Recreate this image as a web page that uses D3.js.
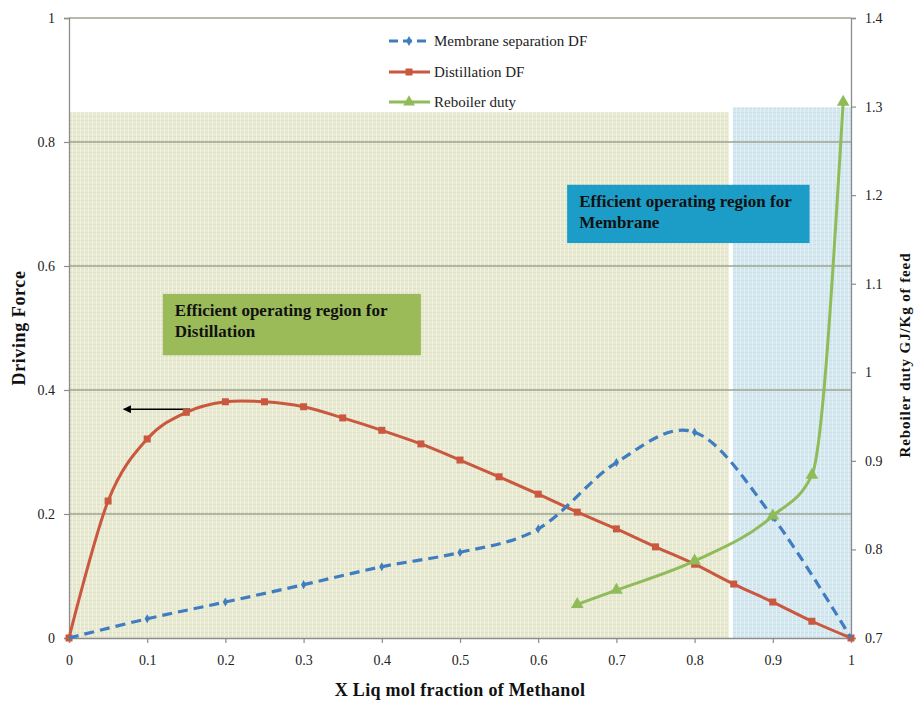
<!DOCTYPE html>
<html>
<head>
<meta charset="utf-8">
<script src="https://cdn.jsdelivr.net/npm/d3@7"></script>
<style>
  html, body { margin: 0; padding: 0; background: #fff; }
  svg { display: block; }
  text { font-family: "Liberation Serif", "Times New Roman", serif; }
</style>
</head>
<body>
<svg id="chart" width="914" height="701"></svg>
<script>
// ---------------- DATA ----------------
const distX = [0, 0.05, 0.1, 0.15, 0.2, 0.25, 0.3, 0.35, 0.4, 0.45, 0.5, 0.55, 0.6, 0.65, 0.7, 0.75, 0.8, 0.85, 0.9, 0.95, 1];
const distDF = [0, 0.221, 0.321, 0.364, 0.381, 0.381, 0.373, 0.355, 0.335, 0.313, 0.287, 0.260, 0.232, 0.203, 0.176, 0.147, 0.119, 0.087, 0.058, 0.027, 0];

const memX = [0, 0.1, 0.2, 0.3, 0.4, 0.5, 0.6, 0.7, 0.8, 0.9, 1];
const memDF = [0, 0.031, 0.058, 0.086, 0.115, 0.138, 0.176, 0.283, 0.332, 0.195, 0];

const rebX = [0.65, 0.7, 0.8, 0.9, 0.95, 0.99];
const rebDuty = [0.738, 0.754, 0.787, 0.838, 0.884, 1.305];

const xTicks = [0, 0.1, 0.2, 0.3, 0.4, 0.5, 0.6, 0.7, 0.8, 0.9, 1];
const yTicks = [0, 0.2, 0.4, 0.6, 0.8, 1];
const y2Ticks = [0.7, 0.8, 0.9, 1, 1.1, 1.2, 1.3, 1.4];

// shaded regions (data coordinates on the x / left-y axes)
const regionNames = ["distillation", "membrane"];
const regionX0 = [0, 0.849];
const regionX1 = [0.844, 1];
const regionTop = [0.848, 0.856];

const legendLabels = ["Membrane separation DF", "Distillation DF", "Reboiler duty"];
const boxLines = [["Efficient operating region for", "Distillation"], ["Efficient operating region for", "Membrane"]];

// ---------------- CHART ----------------
const svg = d3.select("#chart");
const x = d3.scaleLinear().domain([0, 1]).range([69, 851]);
const y = d3.scaleLinear().domain([0, 1]).range([638, 18]);
const y2 = d3.scaleLinear().domain([0.7, 1.4]).range([638, 18]);

const colRed = "#C9583F", colBlue = "#3F7DC0", colGreen = "#8FBC59";
const fmt = d => (d === 0 ? "0" : d === 1 ? "1" : String(+d.toFixed(1)));

// patterns for textured regions
const defs = svg.append("defs");
function makePattern(id, base, line1, line2) {
  const p = defs.append("pattern").attr("id", id).attr("patternUnits", "userSpaceOnUse")
    .attr("width", 4).attr("height", 4);
  p.append("rect").attr("width", 4).attr("height", 4).attr("fill", base);
  p.append("rect").attr("x", 0).attr("y", 0).attr("width", 4).attr("height", 1).attr("fill", line1);
  p.append("rect").attr("x", 0).attr("y", 0).attr("width", 1).attr("height", 4).attr("fill", line2);
}
makePattern("patG", "#E8EAD2", "#DEE1C6", "#F0F1E1");
makePattern("patB", "#D6E9F1", "#C9E0EA", "#E2F0F6");
defs.append("marker").attr("id", "arrowHead").attr("viewBox", "0 0 10 10")
  .attr("refX", 9).attr("refY", 5).attr("markerWidth", 8).attr("markerHeight", 8)
  .attr("markerUnits", "userSpaceOnUse").attr("orient", "auto")
  .append("path").attr("d", "M0,0 L10,5 L0,10 Z").attr("fill", "#000");

// regions
svg.append("g").selectAll("rect").data(regionNames).join("rect")
  .attr("x", (d, i) => x(regionX0[i]))
  .attr("y", (d, i) => y(regionTop[i]))
  .attr("width", (d, i) => x(regionX1[i]) - x(regionX0[i]))
  .attr("height", (d, i) => y(0) - y(regionTop[i]))
  .attr("fill", (d, i) => i === 0 ? "url(#patG)" : "url(#patB)");

// gridlines
svg.append("g").selectAll("line").data(yTicks.filter(d => d > 0)).join("line")
  .attr("x1", x(0)).attr("x2", x(1))
  .attr("y1", d => y(d)).attr("y2", d => y(d))
  .attr("stroke", "#9EA392").attr("stroke-width", 1.3);

// axes
const axisStyle = g => {
  g.select(".domain").attr("stroke", "#8C8C8C").attr("stroke-width", 1.3);
  g.selectAll(".tick line").attr("stroke", "#8C8C8C").attr("stroke-width", 1.2);
  g.selectAll(".tick text").attr("font-family", "Liberation Serif, serif")
    .attr("font-size", 14).attr("fill", "#222");
};
svg.append("g").attr("transform", `translate(0,${y(0)})`)
  .call(d3.axisBottom(x).tickValues(xTicks).tickFormat(fmt).tickSizeOuter(0).tickSize(5).tickPadding(12))
  .call(axisStyle);
svg.append("g").attr("transform", `translate(${x(0)},0)`)
  .call(d3.axisLeft(y).tickValues(yTicks).tickFormat(fmt).tickSizeOuter(0).tickSize(5).tickPadding(9))
  .call(axisStyle);
svg.append("g").attr("transform", `translate(${x(1)},0)`)
  .call(d3.axisRight(y2).tickValues(y2Ticks).tickFormat(d => String(+d.toFixed(1))).tickSizeOuter(0).tickSize(5).tickPadding(9))
  .call(axisStyle);

// axis titles
svg.append("text").attr("transform", `translate(25,${y(0.5)}) rotate(-90)`)
  .attr("text-anchor", "middle").attr("font-weight", "bold").attr("font-size", 18)
  .attr("letter-spacing", 0.6).attr("fill", "#111").text("Driving Force");
svg.append("text").attr("x", x(0.5)).attr("y", 696)
  .attr("text-anchor", "middle").attr("font-weight", "bold").attr("font-size", 18)
  .attr("letter-spacing", 0.3).attr("fill", "#111").text("X Liq mol fraction of Methanol");
svg.append("text").attr("transform", `translate(910,355) rotate(-90)`)
  .attr("text-anchor", "middle").attr("font-weight", "bold").attr("font-size", 15)
  .attr("letter-spacing", 0.9).attr("fill", "#111").text("Reboiler duty GJ/Kg of feed");

// text boxes
const boxX0 = [0.12, 0.637], boxX1 = [0.45, 0.947];
const boxYTop = [0.555, 0.731], boxYBot = [0.456, 0.637];
const boxFill = ["#9BBB59", "#1B9DC7"];
boxLines.forEach((lines, i) => {
  const g = svg.append("g");
  g.append("rect").attr("x", x(boxX0[i])).attr("y", y(boxYTop[i]))
    .attr("width", x(boxX1[i]) - x(boxX0[i])).attr("height", y(boxYBot[i]) - y(boxYTop[i]))
    .attr("fill", boxFill[i]);
  lines.forEach((t, j) => {
    g.append("text").attr("x", x(boxX0[i]) + 12).attr("y", y(boxYTop[i]) + 22 + j * 21)
      .attr("font-weight", "bold").attr("font-size", 17).attr("fill", "#111").text(t);
  });
});

// arrow
svg.append("line").attr("x1", x(0.155)).attr("x2", x(0.07))
  .attr("y1", y(0.369)).attr("y2", y(0.369))
  .attr("stroke", "#000").attr("stroke-width", 1.4).attr("marker-end", "url(#arrowHead)");

// series
const curve = d3.curveCatmullRom.alpha(0);
const lineL = d3.line().x(d => x(d[0])).y(d => y(d[1])).curve(curve);
const lineR = d3.line().x(d => x(d[0])).y(d => y2(d[1])).curve(d3.curveMonotoneX);

const distPts = distX.map((v, i) => [v, distDF[i]]);
const memPts = memX.map((v, i) => [v, memDF[i]]);
const rebPts = rebX.map((v, i) => [v, rebDuty[i]]);

svg.append("path").attr("d", lineL(distPts)).attr("fill", "none")
  .attr("stroke", colRed).attr("stroke-width", 3);
svg.append("g").selectAll("rect").data(distPts).join("rect")
  .attr("x", d => x(d[0]) - 3.5).attr("y", d => y(d[1]) - 3.5)
  .attr("width", 7).attr("height", 7).attr("fill", colRed);

svg.append("path").attr("d", lineL(memPts)).attr("fill", "none")
  .attr("stroke", colBlue).attr("stroke-width", 3.2).attr("stroke-dasharray", "10,6");
svg.append("g").selectAll("path").data(memPts.slice(1, -1)).join("path")
  .attr("d", d3.symbol(d3.symbolDiamond, 24))
  .attr("transform", d => `translate(${x(d[0])},${y(d[1])})`).attr("fill", colBlue);

svg.append("path").attr("d", lineR(rebPts)).attr("fill", "none")
  .attr("stroke", colGreen).attr("stroke-width", 3);
svg.append("g").selectAll("path").data(rebPts).join("path")
  .attr("d", d3.symbol(d3.symbolTriangle, 70))
  .attr("transform", d => `translate(${x(d[0])},${y2(d[1])})`).attr("fill", colGreen);

// legend
const legY = [41, 72, 102];
const leg = svg.append("g");
legendLabels.forEach((lab, i) => {
  const g = leg.append("g").attr("transform", `translate(389,${legY[i]})`);
  if (i === 0) {
    g.append("line").attr("x1", 0).attr("x2", 41).attr("y1", 0).attr("y2", 0)
      .attr("stroke", colBlue).attr("stroke-width", 3.2).attr("stroke-dasharray", "9,5");
    g.append("path").attr("d", d3.symbol(d3.symbolDiamond, 28)).attr("transform", "translate(20,0)").attr("fill", colBlue);
  } else if (i === 1) {
    g.append("line").attr("x1", 0).attr("x2", 41).attr("y1", 0).attr("y2", 0)
      .attr("stroke", colRed).attr("stroke-width", 3);
    g.append("rect").attr("x", 16.5).attr("y", -3.5).attr("width", 7).attr("height", 7).attr("fill", colRed);
  } else {
    g.append("line").attr("x1", 0).attr("x2", 41).attr("y1", 0).attr("y2", 0)
      .attr("stroke", colGreen).attr("stroke-width", 3);
    g.append("path").attr("d", d3.symbol(d3.symbolTriangle, 60)).attr("transform", "translate(20,0)").attr("fill", colGreen);
  }
  g.append("text").attr("x", 45).attr("y", 5).attr("font-size", 15).attr("fill", "#222").text(lab);
});
</script>
</body>
</html>
